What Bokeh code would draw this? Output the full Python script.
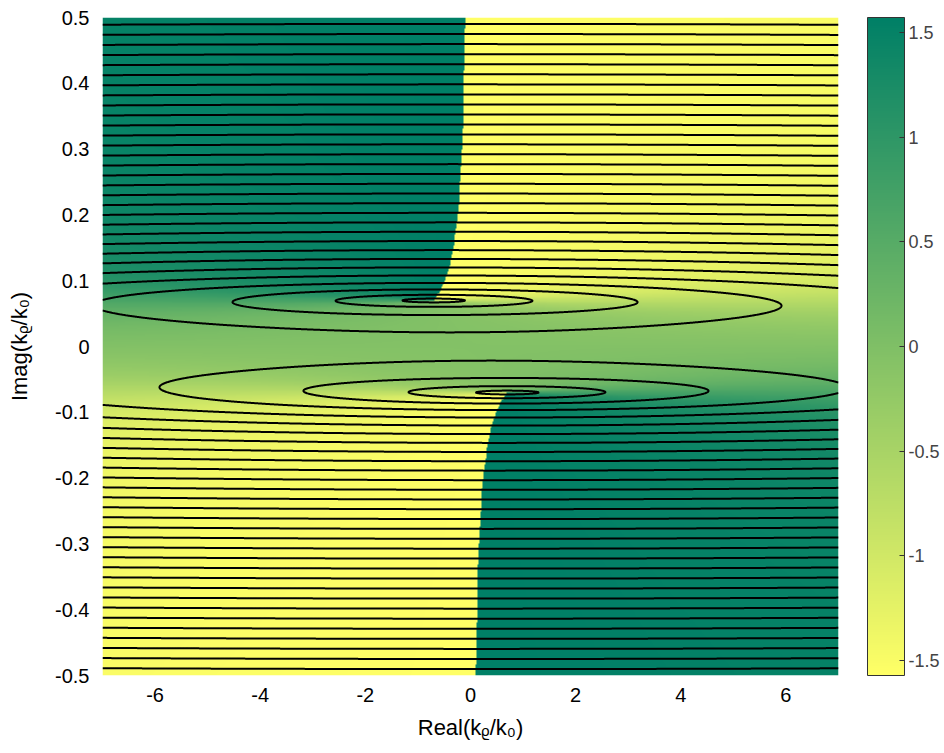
import numpy as np
from bokeh.plotting import figure
from bokeh.models import (LinearColorMapper, ColorBar, FixedTicker,
                          CustomJSTickFormatter, Range1d)
from bokeh.embed import file_html
from bokeh.resources import INLINE

# ---- axes / ticks ----
x_limits = [-7.0, 7.0]
y_limits = [-0.5, 0.5]
x_ticks = [-6, -4, -2, 0, 2, 4, 6]
y_ticks = [-0.5, -0.4, -0.3, -0.2, -0.1, 0, 0.1, 0.2, 0.3, 0.4, 0.5]
cbar_limits = [-1.5708, 1.5708]
cbar_ticks = [-1.5, -1, -0.5, 0, 0.5, 1, 1.5]
x_title = "Real(k\u1d68/k\u2080)"
y_title = "Imag(k\u1d68/k\u2080)"

# ---- field parameters ----
branch_point = [0.7, -0.07]        # branch points at +-(0.7 - 0.07j)
real_axis_compression = [206.0]    # anisotropy of the mapped variable
contour_levels = [0.0047 + 0.0155 * k for k in range(1, 38)]

FONT = "Liberation Sans"

# summer colormap, reversed (yellow low -> green high)
palette = []
for i in range(256):
    u = 1.0 - i / 255.0
    r, g, b = u, 0.5 + 0.5 * u, 0.4
    palette.append("#%02x%02x%02x" % (int(round(r * 255)), int(round(g * 255)), int(round(b * 255))))


def field(nx, ny):
    xs = np.linspace(x_limits[0], x_limits[1], nx)
    ys = np.linspace(y_limits[0], y_limits[1], ny)
    X, Y = np.meshgrid(xs, ys)
    s = real_axis_compression[0]
    Z = X / s + 1j * Y
    a = complex(branch_point[0] / s, branch_point[1])
    gz = np.sqrt(Z ** 2 - a ** 2)
    with np.errstate(divide="ignore", invalid="ignore"):
        ph = -np.arctan(gz.imag / gz.real)
    ph = np.nan_to_num(ph, nan=0.0)
    return xs, ys, ph, np.abs(gz)


_, _, phase_img, _ = field(900, 800)
cx, cy, _, mag = field(1200, 1600)

W, H = 944, 753
L, R, T, B = 102, 106, 17, 78

p = figure(width=W, height=H, x_range=Range1d(*x_limits), y_range=Range1d(*y_limits),
           output_backend="svg", toolbar_location=None,
           min_border_left=L, min_border_right=R, min_border_top=T, min_border_bottom=B)
p.background_fill_color = "white"
p.border_fill_color = "white"
p.outline_line_color = None
p.grid.visible = False

mapper = LinearColorMapper(palette=palette, low=cbar_limits[0], high=cbar_limits[1])
p.image(image=[phase_img], x=x_limits[0], y=y_limits[0],
        dw=x_limits[1] - x_limits[0], dh=y_limits[1] - y_limits[0], color_mapper=mapper)

p.contour(cx, cy, mag, contour_levels, line_color="black", line_width=2.0)

for ax in (p.xaxis[0], p.yaxis[0]):
    ax.axis_line_color = None
    ax.major_tick_line_color = None
    ax.minor_tick_line_color = None
    ax.major_label_text_font = FONT
    ax.major_label_text_font_size = "20px"
    ax.major_label_text_color = "black"
    ax.formatter = CustomJSTickFormatter(code="return tick.toString()")
    ax.axis_label_text_font = FONT
    ax.axis_label_text_font_size = "22px"
    ax.axis_label_text_font_style = "normal"
    ax.axis_label_text_color = "black"
p.xaxis[0].ticker = FixedTicker(ticks=x_ticks)
p.yaxis[0].ticker = FixedTicker(ticks=y_ticks)
p.xaxis[0].major_label_standoff = 6
p.yaxis[0].major_label_standoff = 7
p.xaxis[0].axis_label = x_title
p.yaxis[0].axis_label = y_title
p.xaxis[0].axis_label_standoff = 10
p.yaxis[0].axis_label_standoff = 20

cb = ColorBar(color_mapper=mapper, width=37, height=658, location=(29, 0),
              margin=0, padding=0, ticker=FixedTicker(ticks=cbar_ticks),
              formatter=CustomJSTickFormatter(code="return tick.toString()"),
              major_label_text_font=FONT, major_label_text_font_size="18px",
              major_tick_in=5, major_tick_out=0, major_tick_line_color="#333333",
              bar_line_color="#333333", label_standoff=4,
              background_fill_color=None)
p.add_layout(cb, "right")

open("out.html", "w").write(file_html(p, INLINE))
